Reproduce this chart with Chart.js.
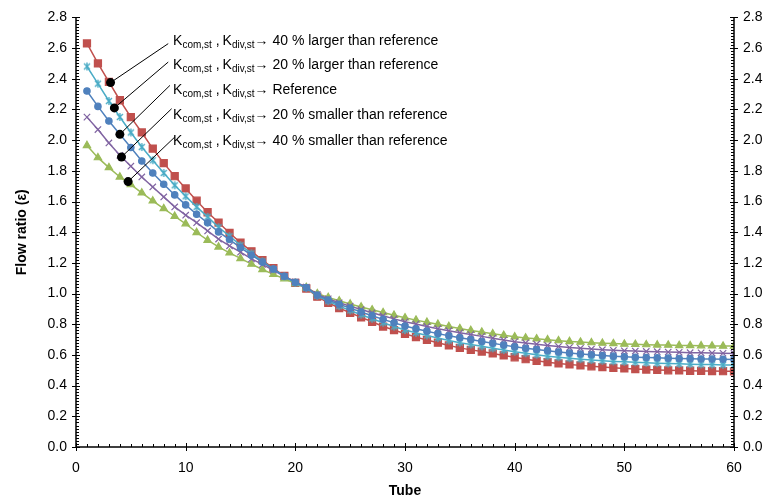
<!DOCTYPE html>
<html>
<head>
<meta charset="utf-8">
<script src="https://cdn.jsdelivr.net/npm/chart.js@4.4.0/dist/chart.umd.min.js"></script>
<style>
  html, body { margin: 0; padding: 0; background: #ffffff; }
  #wrap { width: 772px; height: 500px; }
</style>
</head>
<body>
<div id="wrap"><canvas id="chart" width="772" height="500"></canvas></div>
<script>
// Tube numbers along the header
const tubes = [1,2,3,4,5,6,7,8,9,10,11,12,13,14,15,16,17,18,19,20,
  21,22,23,24,25,26,27,28,29,30,31,32,33,34,35,36,37,38,39,40,
  41,42,43,44,45,46,47,48,49,50,51,52,53,54,55,56,57,58,59,60];

// Flow ratio per tube for each loss-coefficient case
const ratioPlus40 = [2.63,2.50,2.38,2.26,2.15,2.05,1.945,1.85,1.765,1.685,
  1.605,1.53,1.463,1.395,1.332,1.275,1.218,1.165,1.115,1.07,
  1.033,0.98,0.94,0.905,0.875,0.845,0.816,0.785,0.762,0.738,
  0.716,0.698,0.68,0.662,0.646,0.633,0.622,0.61,0.597,0.585,
  0.572,0.562,0.553,0.545,0.538,0.532,0.526,0.521,0.516,0.512,
  0.508,0.505,0.502,0.50,0.499,0.497,0.496,0.495,0.494,0.493];

const ratioPlus20 = [2.48,2.368,2.255,2.151,2.05,1.955,1.869,1.786,1.706,1.634,
  1.565,1.50,1.432,1.374,1.315,1.262,1.21,1.16,1.112,1.07,
  1.036,0.985,0.95,0.918,0.89,0.862,0.836,0.81,0.785,0.762,
  0.744,0.727,0.71,0.694,0.68,0.668,0.656,0.643,0.632,0.621,
  0.611,0.601,0.592,0.585,0.578,0.572,0.567,0.562,0.558,0.555,
  0.552,0.549,0.546,0.544,0.542,0.54,0.538,0.537,0.535,0.534];

const ratioReference = [2.32,2.22,2.125,2.038,1.952,1.864,1.786,1.713,1.643,1.578,
  1.517,1.461,1.402,1.352,1.30,1.25,1.205,1.16,1.113,1.074,
  1.04,0.99,0.958,0.93,0.905,0.88,0.856,0.832,0.81,0.788,
  0.771,0.755,0.739,0.725,0.712,0.70,0.688,0.676,0.664,0.653,
  0.644,0.635,0.627,0.619,0.612,0.606,0.601,0.596,0.592,0.588,
  0.585,0.583,0.581,0.579,0.577,0.576,0.574,0.573,0.572,0.571];

const ratioMinus20 = [2.15,2.069,1.982,1.901,1.83,1.76,1.695,1.63,1.565,1.511,
  1.462,1.408,1.355,1.311,1.27,1.226,1.19,1.152,1.112,1.076,
  1.042,0.995,0.966,0.94,0.918,0.896,0.875,0.855,0.835,0.816,
  0.801,0.786,0.771,0.758,0.745,0.733,0.721,0.709,0.697,0.686,
  0.678,0.67,0.662,0.655,0.648,0.643,0.638,0.634,0.63,0.627,
  0.625,0.623,0.621,0.619,0.617,0.615,0.614,0.612,0.611,0.61];

const ratioMinus40 = [1.965,1.886,1.821,1.76,1.71,1.656,1.604,1.554,1.504,1.455,
  1.398,1.348,1.304,1.265,1.229,1.192,1.157,1.125,1.097,1.066,
  1.04,1.0,0.975,0.953,0.932,0.913,0.894,0.876,0.859,0.842,
  0.827,0.813,0.80,0.786,0.772,0.76,0.749,0.738,0.728,0.718,
  0.711,0.705,0.699,0.693,0.688,0.684,0.68,0.677,0.674,0.671,
  0.669,0.667,0.665,0.664,0.662,0.661,0.66,0.659,0.658,0.658];

// Axis ticks
const tubeTicks = [0,10,20,30,40,50,60];
const ratioTicks = [0,0.2,0.4,0.6,0.8,1.0,1.2,1.4,1.6,1.8,2.0,2.2,2.4,2.6,2.8];

// Callout texts and where each callout touches its curve
const noteTexts = ['40 % larger than reference','20 % larger than reference','Reference',
  '20 % smaller than reference','40 % smaller than reference'];
const noteTubes = [3.15, 3.5, 4.0, 4.15, 4.75];
const noteRatios = [2.375, 2.21, 2.038, 1.89, 1.73];

const FONT = '"Liberation Sans", Arial, sans-serif';

function pairs(vals) { return tubes.map((t, i) => ({ x: t, y: vals[i] })); }

// Asterisk-style marker for the +20 % series
function starMarker(color) {
  const c = document.createElement('canvas');
  c.width = 10; c.height = 10;
  const g = c.getContext('2d');
  g.strokeStyle = color; g.lineWidth = 1.4;
  g.beginPath();
  g.moveTo(2, 2); g.lineTo(8, 8);
  g.moveTo(8, 2); g.lineTo(2, 8);
  g.moveTo(5, 1); g.lineTo(5, 9);
  g.stroke();
  return c;
}

const C_RED = '#C0504D', C_CYAN = '#4BACC6', C_BLUE = '#4F81BD', C_PURPLE = '#8064A2', C_GREEN = '#9BBB59';

function series(label, vals, color, style, radius, order) {
  return {
    label, data: pairs(vals), borderColor: color, backgroundColor: color,
    borderWidth: 1.5, pointStyle: style, pointRadius: radius, pointHoverRadius: radius,
    pointBorderColor: color, pointBackgroundColor: color, pointBorderWidth: 1.2,
    showLine: true, tension: 0, order
  };
}

// Axis lines with crossing major ticks and inner minor ticks
const axisFrame = {
  id: 'axisFrame',
  afterDatasetsDraw(chart) {
    const { ctx, chartArea: { left, right, top, bottom }, scales: { x, y } } = chart;
    ctx.save();
    ctx.strokeStyle = '#000';
    ctx.lineWidth = 1.5;
    ctx.beginPath();
    ctx.moveTo(left, top); ctx.lineTo(left, bottom); ctx.lineTo(right, bottom); ctx.lineTo(right, top);
    ctx.stroke();
    ctx.lineWidth = 1;
    ctx.beginPath();
    for (let k = 0; k <= 140; k++) {
      const py = Math.round(y.getPixelForValue(k * 0.02)) + 0.5;
      if (k % 10 === 0) {
        ctx.moveTo(left - 4, py); ctx.lineTo(left + 4, py);
        ctx.moveTo(right - 4, py); ctx.lineTo(right + 4, py);
      } else {
        ctx.moveTo(left, py); ctx.lineTo(left + 3, py);
        ctx.moveTo(right - 3, py); ctx.lineTo(right, py);
      }
    }
    for (let k = 0; k <= 60; k++) {
      const px = Math.round(x.getPixelForValue(k)) + 0.5;
      if (k % 10 === 0) {
        ctx.moveTo(px, bottom - 4); ctx.lineTo(px, bottom + 4);
      } else {
        ctx.moveTo(px, bottom - 3); ctx.lineTo(px, bottom);
      }
    }
    ctx.stroke();
    ctx.restore();
  }
};

// Callouts: dot on the curve, leader line, label with subscripts
const callouts = {
  id: 'callouts',
  afterDatasetsDraw(chart) {
    const { ctx, scales: { x, y } } = chart;
    const labelTube = 8.85;
    const labelRatio = [2.65, 2.494, 2.331, 2.168, 2.0];
    const leaderEnd = [[8.41, 2.629], [8.41, 2.509], [8.57, 2.357], [8.72, 2.205], [9.02, 2.021]];
    ctx.save();
    noteTubes.forEach((t, i) => {
      const px = x.getPixelForValue(t), py = y.getPixelForValue(noteRatios[i]);
      const ex = x.getPixelForValue(leaderEnd[i][0]), ey = y.getPixelForValue(leaderEnd[i][1]);
      ctx.strokeStyle = '#000'; ctx.lineWidth = 1;
      ctx.beginPath(); ctx.moveTo(px, py); ctx.lineTo(ex, ey); ctx.stroke();
      ctx.fillStyle = '#000';
      ctx.beginPath(); ctx.arc(px, py, 4.5, 0, Math.PI * 2); ctx.fill();

      let tx = x.getPixelForValue(labelTube);
      const base = y.getPixelForValue(labelRatio[i]) + 5;
      ctx.textBaseline = 'alphabetic'; ctx.textAlign = 'left';
      const big = '14px ' + FONT, small = '10px ' + FONT;
      const put = (s, f, dy) => { ctx.font = f; ctx.fillText(s, tx, base + dy); tx += ctx.measureText(s).width; };
      put('K', big, 0); put('com,st', small, 3);
      put(' ,', big, 0); tx += 3;
      put('K', big, 0); put('div,st', small, 3);
      put('\u2192 ' + noteTexts[i], big, 0);
    });
    ctx.restore();
  }
};

const tickFont = { family: FONT, size: 14 };
const titleFont = { family: FONT, size: 14, weight: 'bold' };

new Chart(document.getElementById('chart'), {
  type: 'scatter',
  data: {
    datasets: [
      series('Reference', ratioReference, C_BLUE, 'circle', 3.2, 0),
      series('+20 %', ratioPlus20, C_CYAN, starMarker(C_CYAN), 4, 1),
      series('-20 %', ratioMinus20, C_PURPLE, 'crossRot', 4.5, 2),
      series('-40 %', ratioMinus40, C_GREEN, 'triangle', 4.2, 3),
      series('+40 %', ratioPlus40, C_RED, 'rect', 5, 4)
    ]
  },
  options: {
    responsive: false,
    animation: false,
    devicePixelRatio: 1,
    layout: { padding: { top: 17, left: 0, right: 0, bottom: 0 } },
    plugins: { legend: { display: false }, tooltip: { enabled: false } },
    scales: {
      x: {
        type: 'linear', min: 0, max: 60,
        afterBuildTicks: s => { s.ticks = tubeTicks.map(v => ({ value: v })); },
        afterFit: s => { s.height = 53; },
        grid: { display: false, drawTicks: false },
        border: { display: false },
        ticks: { font: tickFont, color: '#000', padding: 13, maxRotation: 0 },
        title: { display: true, text: 'Tube', font: titleFont, color: '#000', padding: { top: 0, bottom: 0 } }
      },
      y: {
        type: 'linear', position: 'left', min: 0, max: 2.8,
        afterBuildTicks: s => { s.ticks = ratioTicks.map(v => ({ value: v })); },
        afterFit: s => { s.width = 76; },
        grid: { display: false, drawTicks: false },
        border: { display: false },
        ticks: { font: tickFont, color: '#000', padding: 9, callback: v => v.toFixed(1) },
        title: { display: true, text: 'Flow ratio (\u03b5)', font: titleFont, color: '#000', padding: { top: 14, bottom: 0 } }
      },
      y2: {
        type: 'linear', position: 'right', min: 0, max: 2.8,
        afterBuildTicks: s => { s.ticks = ratioTicks.map(v => ({ value: v })); },
        afterFit: s => { s.width = 38; },
        grid: { display: false, drawTicks: false },
        border: { display: false },
        ticks: { font: tickFont, color: '#000', padding: 9, callback: v => v.toFixed(1) }
      }
    }
  },
  plugins: [axisFrame, callouts]
});
</script>
</body>
</html>
